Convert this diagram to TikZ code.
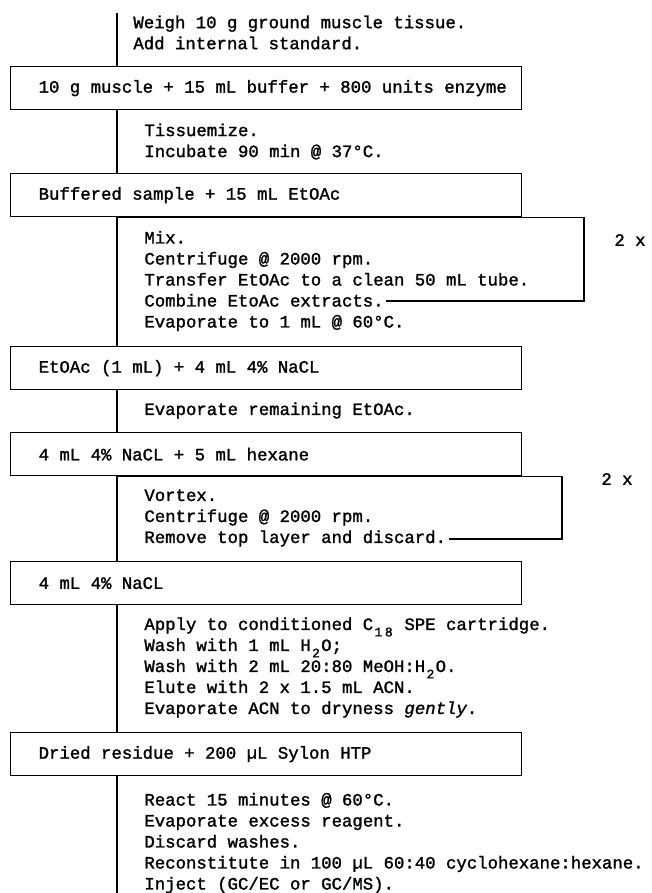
\documentclass[tikz,border=0pt]{standalone}
\usepackage{fontspec}
\usepackage{tikz}
\usetikzlibrary{positioning}

\newfontfamily\typewriter{Liberation Mono}[FakeBold=1.5]
\newcommand{\lowch}[1]{\makebox[0.6em]{\raisebox{-0.7ex}{\fontsize{6.5}{6.5}\selectfont #1}}}

\begin{document}
\begin{tikzpicture}[
    x=0.5pt, y=-0.5pt,
    font=\typewriter\fontsize{8.667}{10.5}\selectfont,
    samplebox/.style={
        rectangle,
        draw,
        line width=0.65pt,
        anchor=north west,
        align=flush left,
        text width=243.5pt,
        inner xsep=6pt,
        minimum height=21.5pt,
        execute at begin node={\spaceskip=0pt\xspaceskip=0pt\noindent\hspace*{8pt}}
    },
    stepnote/.style={anchor=west, align=left, inner sep=0pt},
    flowline/.style={line width=0.65pt}
]
\useasboundingbox (0,0) rectangle (652,893);

\coordinate (top) at (117,13);
\coordinate (bottom) at (117,893);

\node[stepnote] (weigh) at (133,32.5) {
    Weigh 10 g ground muscle tissue.\\
    Add internal standard.
};

\node[samplebox] (muscle) at (10,66) {10 g muscle + 15 mL buffer + 800 units enzyme};

\node[stepnote] (tissue) at (144,141.5) {
    Tissuemize.\\
    Incubate 90 min @ 37°C.
};

\node[samplebox] (buffered) at (10,173) {Buffered sample + 15 mL EtOAc};

\node[stepnote] (mix) at (144,281) {
    Mix.\\
    Centrifuge @ 2000 rpm.\\
    Transfer EtOAc to a clean 50 mL tube.\\
    Combine EtoAc extracts.\\
    Evaporate to 1 mL @ 60°C.
};

\node[samplebox] (etoac) at (10,346) {EtOAc (1 mL) + 4 mL 4\% NaCL};

\node[stepnote] (remaining) at (144,410.5) {Evaporate remaining EtOAc.};

\node[samplebox] (hexane) at (10,432) {4 mL 4\% NaCL + 5 mL hexane};

\node[stepnote] (vortex) at (144,518) {
    Vortex.\\
    Centrifuge @ 2000 rpm.\\
    Remove top layer and discard.
};

\node[samplebox] (nacl) at (10,561) {4 mL 4\% NaCL};

\node[stepnote] (spe) at (144,667.5) {
    Apply to conditioned C\lowch{1}\lowch{8} SPE cartridge.\\
    Wash with 1 mL H\lowch{2}O;\\
    Wash with 2 mL 20:80 MeOH:H\lowch{2}O.\\
    Elute with 2 x 1.5 mL ACN.\\
    Evaporate ACN to dryness \textit{gently}.
};

\node[samplebox] (dried) at (10,732) {Dried residue + 200 µL Sylon HTP};

\node[stepnote] (react) at (144,843) {
    React 15 minutes @ 60°C.\\
    Evaporate excess reagent.\\
    Discard washes.\\
    Reconstitute in 100 µL 60:40 cyclohexane:hexane.\\
    Inject (GC/EC or GC/MS).
};

% repeat loops
\coordinate (combine) at (386,301);
\coordinate (discard) at (449,539);
\node (twice1) at (630,240) {2 x};
\node (twice2) at (617,479) {2 x};

\draw[flowline] (top) -- (muscle.north -| top);
\draw[flowline] (muscle.south -| top) -- (buffered.north -| top);
\draw[flowline] (buffered.south -| top) -- (etoac.north -| top);
\draw[flowline] (etoac.south -| top) -- (hexane.north -| top);
\draw[flowline] (hexane.south -| top) -- (nacl.north -| top);
\draw[flowline] (nacl.south -| top) -- (dried.north -| top);
\draw[flowline] (dried.south -| top) -- (bottom);

\draw[flowline] (buffered.south -| top) -- ++(467,0) |- (combine);
\draw[flowline] (hexane.south -| top) -- ++(445,0) |- (discard);

\end{tikzpicture}
\end{document}
